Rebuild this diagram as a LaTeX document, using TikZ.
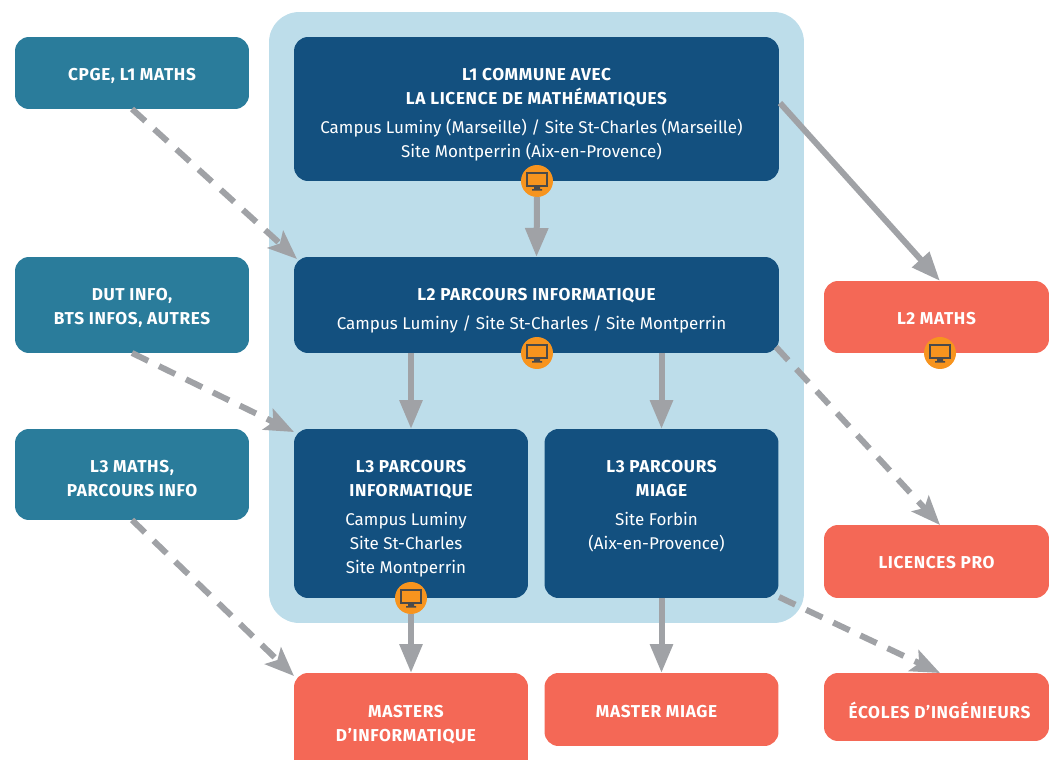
\documentclass[tikz,border=0pt]{standalone}
\usepackage{fontspec}
\setmainfont[BoldFeatures={LetterSpace=3.7}]{Fira Sans}
\usetikzlibrary{arrows.meta}
\definecolor{panelblue}{HTML}{BDDDEA}
\definecolor{darkblue}{HTML}{13507F}
\definecolor{tealblue}{HTML}{2A7C9B}
\definecolor{coral}{HTML}{F46856}
\definecolor{arrowgray}{HTML}{A0A2A6}
\definecolor{iconorange}{HTML}{F7941E}
\definecolor{icondark}{HTML}{4A4A4A}
\newcommand{\titre}[1]{{\fontsize{9.8pt}{13.6pt}\selectfont\bfseries #1}}
\newcommand{\corps}[1]{#1\rule{.2cm}{0pt}}
\newcommand{\decale}[1]{\mbox{}\\[#1]}
\tikzset{
    box/.style={rounded corners=.28cm, inner sep=0pt, outer sep=0pt, text=white, align=center,
        font=\fontsize{9.67pt}{13.6pt}\selectfont},
    parcours/.style={box, fill=darkblue},
    origine/.style={box, fill=tealblue},
    sortie/.style={box, fill=coral},
    bas/.style={execute at begin node={\rule{0pt}{#1}}},
    pastille/.style={circle, fill=iconorange, minimum size=.64cm, inner sep=0pt, outer sep=0pt},
    plein/.style={-{Triangle[length=.58cm, width=.44cm]}, line width=.12cm, arrowgray},
    pointille/.style={-{Stealth[length=.58cm, width=.46cm, inset=.12cm]}, line width=.12cm, arrowgray,
        dash pattern=on .36cm off .24cm},
}
\begin{document}
\begin{tikzpicture}[x=.02cm, y=-.02cm]
\clip (0,0) rectangle (1049,760);

% Le fond
\node[fill=panelblue, rounded corners=.6cm, minimum width=10.7cm, minimum height=12.22cm,
    inner sep=0pt, outer sep=0pt] (fond) at (536.5,317.5) {};

% Les origines
\node[origine, bas=10.4pt, minimum width=4.68cm, minimum height=1.44cm] (cpge) at (132,73) {\titre{CPGE, L1 MATHS}};
\node[origine, minimum width=4.68cm, minimum height=1.92cm] (dut) at (132,305) {\decale{-3.4pt}\titre{DUT INFO,}\\\titre{BTS INFOS, AUTRES}};
\node[origine, minimum width=4.68cm, minimum height=1.82cm] (l3maths) at (132,474.5) {\decale{-2.3pt}\titre{L3 MATHS,}\\\titre{PARCOURS INFO}};

% Les parcours
\node[parcours, minimum width=9.7cm, minimum height=2.88cm] (l1) at (536.5,109) {\decale{0pt}\titre{L1 COMMUNE AVEC}\\\titre{LA LICENCE DE MATHÉMATIQUES}\\[.1cm]\corps{Campus Luminy (Marseille) / Site St-Charles (Marseille)}\\\corps{Site Montperrin (Aix-en-Provence)}};
\node[parcours, minimum width=9.7cm, minimum height=1.92cm] (l2) at (536.5,305) {\decale{-.6pt}\titre{L2 PARCOURS INFORMATIQUE}\\[.1cm]\corps{Campus Luminy / Site St-Charles / Site Montperrin}};
\node[parcours, minimum width=4.68cm, minimum height=3.38cm] (l3i) at (411,513.5) {\decale{-1pt}\titre{L3 PARCOURS}\\\titre{INFORMATIQUE}\\[.1cm]\corps{Campus Luminy}\\\corps{Site St-Charles}\\\corps{Site Montperrin}};
\node[parcours, minimum width=4.68cm, minimum height=3.38cm] (l3m) at (661.5,513.5) {\decale{-1pt}\titre{L3 PARCOURS}\\\titre{MIAGE}\\[.1cm]\corps{Site Forbin}\\\corps{(Aix-en-Provence)}\\\phantom{p}};

% Les sorties
\node[sortie, bas=8.2pt, minimum width=4.5cm, minimum height=1.44cm] (l2maths) at (936.5,317) {\titre{L2 MATHS}};
\node[sortie, bas=8.2pt, minimum width=4.5cm, minimum height=1.46cm] (lpro) at (936.5,561.5) {\titre{LICENCES PRO}};
\node[sortie, bas=12.7pt, minimum width=4.5cm, minimum height=1.36cm] (ecoles) at (936.5,707) {\hspace*{.12cm}\titre{ÉCOLES D’INGÉNIEURS}};
\node[sortie, minimum width=4.68cm, minimum height=2cm] (masters) at (411,723) {\decale{-4.5pt}\corps{\titre{MASTERS}}\\\corps{\titre{D’INFORMATIQUE}}};
\node[sortie, bas=9.3pt, minimum width=4.68cm, minimum height=1.46cm] (miage) at (661.5,709.5) {\corps{\titre{MASTER MIAGE}}};

% Les extrémités libres des flèches
\coordinate (l1bord) at (780,103);
\coordinate (l2gauche) at (l3i.north |- l2.south);
\coordinate (l2droite) at (l3m.north |- l2.south);
\coordinate (l2coin) at (776,347);
\coordinate (l3coin) at (779,597);
\coordinate (l2mhaut) at (940,281);
\coordinate (lprohaut) at (940,525);
\coordinate (ecoleshaut) at (940,673);
\coordinate (l2ng) at (297,259);
\coordinate (l3ng) at (294,432);
\coordinate (mastersng) at (294,676);

\foreach \source/\dest in {l2gauche/l3i.north, l2droite/l3m.north, l3m.south/miage.north, l1bord/l2mhaut}{
    \draw[plein] (\source) to (\dest);
}

\foreach \source/\dest in {cpge.south/l2ng, dut.south/l3ng, l3maths.south/mastersng, l2coin/lprohaut, l3coin/ecoleshaut}{
    \draw[pointille] (\source) to (\dest);
}

% Les écrans
\foreach \nom/\x/\y in {ecran1/537/181, ecran2/537/353, ecran3/411/598, ecran4/940/353}{
    \node[pastille] (\nom) at (\x, \y) {};
    \begin{scope}[shift={(\nom)}]
        \draw[icondark, line width=.028cm] (-10,-8) rectangle (10,5);
        \fill[icondark] (-3,5) rectangle (3,9) (-5,8.2) rectangle (5,9.6);
    \end{scope}
}

\foreach \source/\dest in {ecran1.south/l2.north, ecran3.south/masters.north}{
    \draw[plein] (\source) to (\dest);
}
\end{tikzpicture}
\end{document}
